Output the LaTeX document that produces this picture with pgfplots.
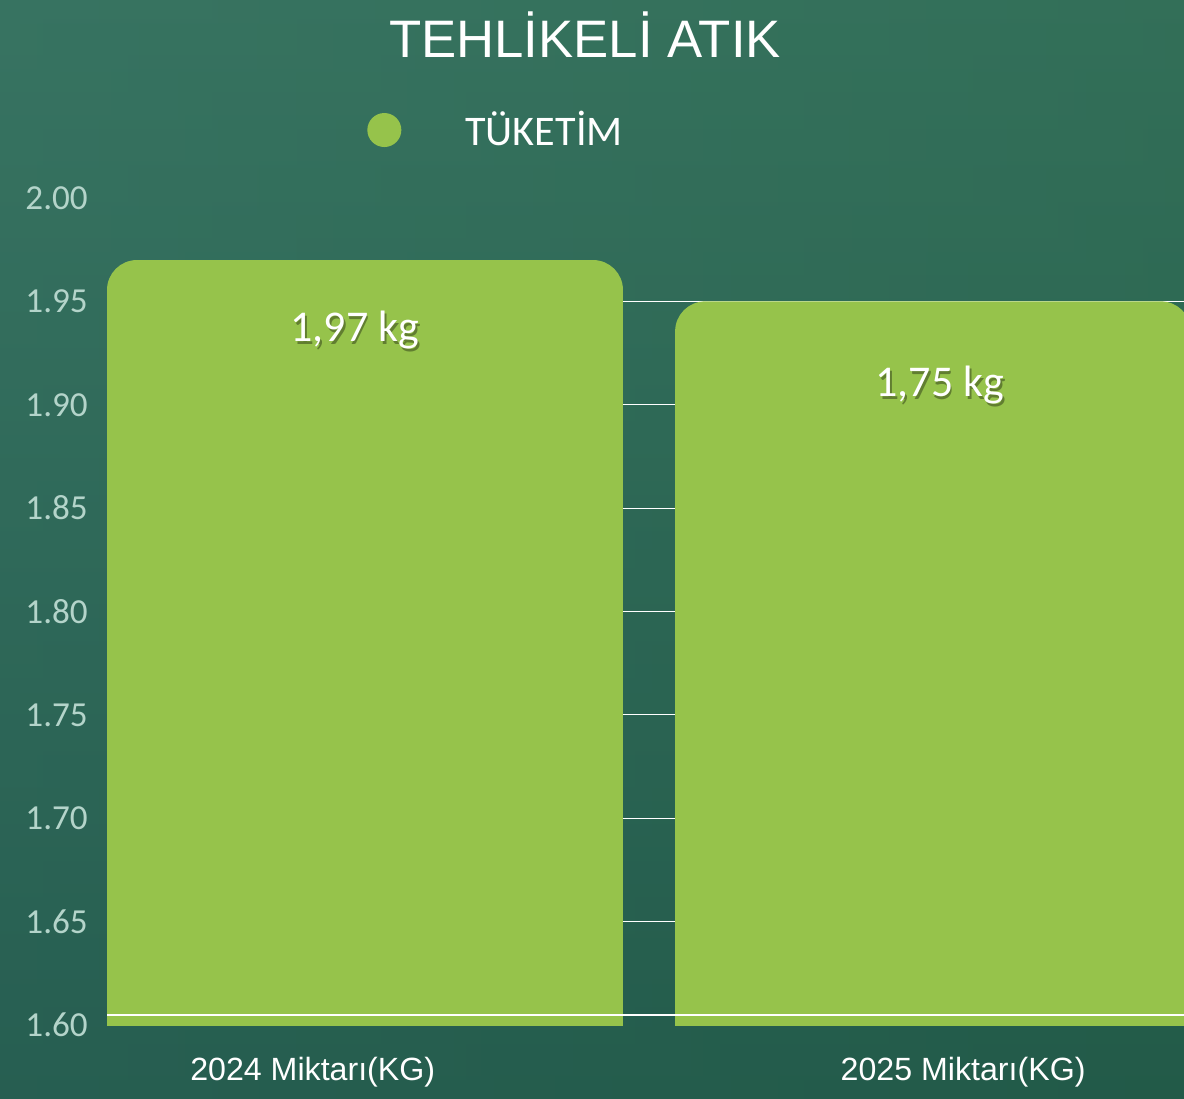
\documentclass[border=0pt]{standalone}
\usepackage{pgfplots}
\pgfplotsset{compat=1.18}
\usepackage{fontspec}
\setmainfont{Liberation Sans}
\newfontfamily\carlito{Carlito}

\definecolor{barc}{HTML}{96C34B}
\definecolor{bgtop}{HTML}{37725F}
\definecolor{bgbot}{HTML}{1F5448}
\definecolor{bgleft}{HTML}{3A7868}
\definecolor{bgright}{HTML}{2A6A4A}
\definecolor{tickc}{HTML}{B4D4CA}

\begin{document}
\begin{tikzpicture}
  \path[use as bounding box] (0,0) rectangle (23.68,21.96);
  \shade[top color=bgtop, bottom color=bgbot] (0,0) rectangle (23.68,21.96);
  \shade[left color=bgleft, right color=bgright, opacity=0.3] (0,0) rectangle (23.68,21.96);

  % title
  \node[text=white, font=\fontsize{30}{36}\selectfont] at (11.7,21.26) {TEHLİKELİ ATIK};

  \begin{axis}[
      at={(2.14cm,1.46cm)}, anchor=south west,
      scale only axis,
      width=21.54cm, height=16.54cm,
      xmin=-0.4542, xmax=1.4419,
      ymin=1.6, ymax=2.0,
      axis line style={draw=none},
      major tick length=0pt,
      xtick={-0.092,1.053},
      xticklabels={2024 Miktarı(KG), 2025 Miktarı(KG)},
      xticklabel style={text=white, font=\fontsize{18.3}{22}\selectfont, yshift=-0.52cm},
      ytick={1.65,1.7,1.75,1.8,1.85,1.9,1.95},
      extra y ticks={1.6,2.0},
      extra y tick style={grid=none},
      yticklabel style={text=tickc, font=\carlito\fontsize{20}{24}\selectfont,
        xshift=-0.26cm,
        /pgf/number format/.cd, fixed, fixed zerofill, precision=2, assume math mode=true},
      ymajorgrids,
      major grid style={white, line width=0.7pt},
      clip=true,
      legend style={at={(0.2414,1.0822)}, anchor=west, draw=none, fill=none,
        text=white, font=\carlito\fontsize{24}{29}\selectfont,
        inner sep=0pt, nodes={inner sep=0pt}, /tikz/column sep=1.28cm},
    ]

    % 2024 bar (top at 1.97)
    \addplot[fill=barc, draw=none, rounded corners=0.6cm,
      legend image code/.code={\fill[barc] (0.34cm,0cm) circle (0.34cm);}]
      coordinates {(-0.4542,1.55) (-0.4542,1.97) (0.4542,1.97) (0.4542,1.55)} -- cycle;
    \addlegendentry{TÜKETİM}

    % 2025 bar (drawn at 1.95, labelled 1,75 kg)
    \addplot[fill=barc, draw=none, rounded corners=0.6cm, forget plot]
      coordinates {(0.546,1.55) (0.546,1.95) (1.454,1.95) (1.454,1.55)} -- cycle;

    % baseline over the bars
    \addplot[white, line width=0.7pt, forget plot]
      coordinates {(-0.4542,1.6048) (1.4419,1.6048)};

    % value labels with a soft shadow
    \node[text=black, opacity=0.35, font=\carlito\fontsize{25}{30}\selectfont,
      xshift=1pt, yshift=-1.5pt] at (axis cs:-0.018,1.9362) {1,97 kg};
    \node[text=white, font=\carlito\fontsize{25}{30}\selectfont]
      at (axis cs:-0.018,1.9362) {1,97 kg};
    \node[text=black, opacity=0.35, font=\carlito\fontsize{25}{30}\selectfont,
      xshift=1pt, yshift=-1.5pt] at (axis cs:1.012,1.9096) {1,75 kg};
    \node[text=white, font=\carlito\fontsize{25}{30}\selectfont]
      at (axis cs:1.012,1.9096) {1,75 kg};
  \end{axis}
\end{tikzpicture}
\end{document}
